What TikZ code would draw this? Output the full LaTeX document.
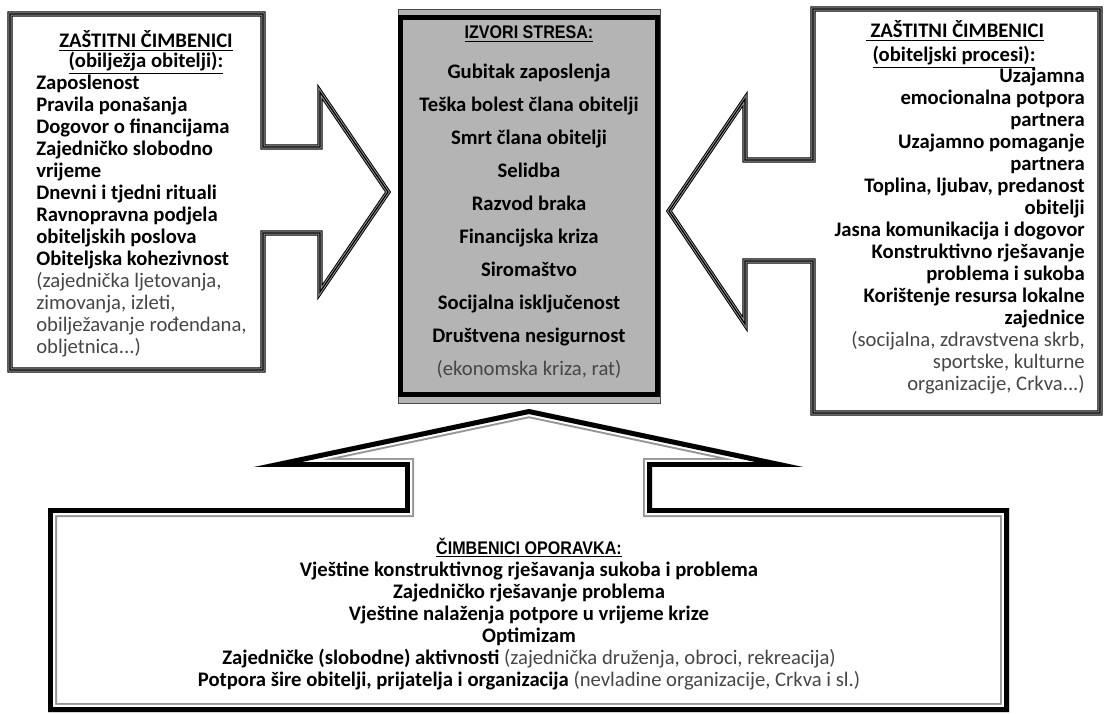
\documentclass[tikz,border=0pt]{standalone}
\usepackage{fontspec}
\setmainfont{Carlito}
\newfontfamily\headfont[FakeStretch=0.88]{Liberation Sans}
\usepackage{xcolor}
\definecolor{boxgray}{RGB}{180,180,180}
\definecolor{rulegray}{RGB}{150,150,150}
\definecolor{notegray}{RGB}{70,70,70}
\newcommand{\notetext}{\mdseries\color{notegray}}
\newcommand{\tridots}{...}

\begin{document}
\begin{tikzpicture}[
  x=0.025cm, y=-0.025cm,
  tripleline/.style={
    draw=black, line width=0.85pt,
    preaction={draw=black, line width=3.6pt},
    preaction={draw=rulegray, line width=2.2pt}
  },
  entry/.style={
    font=\fontsize{14.7}{15.6}\selectfont\bfseries, inner sep=0pt
  },
  boxtitle/.style={
    font=\headfont\bfseries\fontsize{13}{15}\selectfont, inner sep=0pt
  }
]
\useasboundingbox (0,0) rectangle (1105,714);

%% ============================================================
%%  LEFT CALLOUT — ZASTITNI CIMBENICI (obiljezja obitelji)
%% ============================================================
\draw[tripleline] (10,14) -- (263,14) -- (263,147) -- (320,147) -- (320,92)
  -- (388,192) -- (320,292) -- (320,233) -- (263,233) -- (263,370)
  -- (10,370) -- cycle;

\node[entry, anchor=base] (lhead1) at (146,48) {\underline{ZAŠTITNI ČIMBENICI}};
\node[entry, anchor=base] (lhead2) at (146,68) {\underline{(obilježja obitelji):}};

\foreach \txt [count=\i] in {
    Zaposlenost,
    Pravila ponašanja,
    Dogovor o financijama,
    Zajedničko slobodno,
    vrijeme,
    Dnevni i tjedni rituali,
    Ravnopravna podjela,
    obiteljskih poslova,
    Obiteljska kohezivnost,
    {\notetext (zajednička ljetovanja,},
    {\notetext zimovanja, izleti,},
    {\notetext obilježavanje rođendana,},
    {\notetext obljetnica\tridots)}}
  \node[entry, anchor=base west] (lf\i) at (36, 68+22*\i) {\txt};

%% ============================================================
%%  CENTRAL BOX — IZVORI STRESA
%% ============================================================
\filldraw[fill=boxgray, draw=black!70, line width=0.5pt]
  (398,9) rectangle (660,403);
\draw[line width=3.6pt] (400.5,17.5) rectangle (657.5,394.5);

\node[boxtitle, anchor=base] (stitle) at (529,39) {\underline{IZVORI STRESA:}};

\foreach \txt [count=\i] in {
    Gubitak zaposlenja,
    Teška bolest člana obitelji,
    Smrt člana obitelji,
    Selidba,
    Razvod braka,
    Financijska kriza,
    Siromaštvo,
    Socijalna isključenost,
    Društvena nesigurnost,
    {\notetext (ekonomska kriza, rat)}}
  \node[entry, anchor=base] (st\i) at (529, 46+33*\i) {\txt};

%% ============================================================
%%  RIGHT CALLOUT — ZASTITNI CIMBENICI (obiteljski procesi)
%% ============================================================
\draw[tripleline] (813,9) -- (1100,9) -- (1100,413) -- (813,413) -- (813,261)
  -- (745,261) -- (745,324) -- (669,211) -- (745,99) -- (745,160)
  -- (813,160) -- cycle;

\node[entry, anchor=base] (rhead1) at (955,38) {\underline{\ ZAŠTITNI ČIMBENICI}};
\node[entry, anchor=base] (rhead2) at (954,62) {\underline{(obiteljski procesi):}};

\foreach \txt [count=\i] in {
    Uzajamna,
    emocionalna potpora,
    partnera,
    Uzajamno pomaganje,
    partnera,
    {Toplina, ljubav, predanost},
    obitelji,
    Jasna komunikacija i dogovor,
    Konstruktivno rješavanje,
    problema i sukoba,
    Korištenje resursa lokalne,
    zajednice,
    {\notetext (socijalna, zdravstvena skrb,},
    {\notetext sportske, kulturne},
    {\notetext organizacije, Crkva\tridots)}}
  \node[entry, anchor=base east] (rt\i) at (1085, 61+22*\i) {\txt};

%% ============================================================
%%  BOTTOM CALLOUT — CIMBENICI OPORAVKA
%% ============================================================
\path[save path=\recoverypath] (48,508) -- (405,508) -- (405,467) -- (254,467)
  -- (529,409) -- (803,467) -- (652,467) -- (652,508) -- (1009,508)
  -- (1009,712) -- (48,712) -- cycle;
\begin{scope}
  \clip[use path=\recoverypath];
  \draw[rulegray, line width=12.8pt, use path=\recoverypath];
  \draw[white, line width=10pt, use path=\recoverypath];
  \draw[black, line width=7.1pt, use path=\recoverypath];
\end{scope}

\node[boxtitle, anchor=base] (rtitle) at (529,554) {\underline{ČIMBENICI OPORAVKA:}};

\foreach \txt [count=\i] in {
    Vještine konstruktivnog rješavanja sukoba i problema,
    Zajedničko rješavanje problema,
    Vještine nalaženja potpore u vrijeme krize,
    Optimizam,
    {Zajedničke (slobodne) aktivnosti {\notetext (zajednička druženja, obroci, rekreacija)}},
    {Potpora šire obitelji, prijatelja i organizacija {\notetext (nevladine organizacije, Crkva i sl.)}}}
  \node[entry, anchor=base] (rc\i) at (529, 554+22*\i) {\txt};

\end{tikzpicture}
\end{document}
